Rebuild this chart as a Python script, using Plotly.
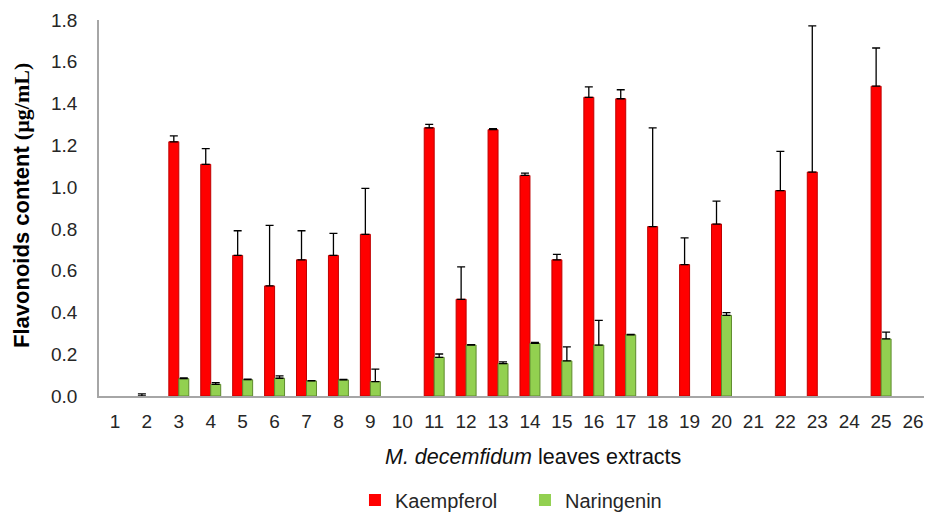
import plotly.graph_objects as go

categories = [str(i) for i in range(1, 27)]

kaempferol = [None, 0, 1.217, 1.109, 0.673, 0.527, 0.652, 0.673, 0.774, None,
              1.284, 0.463, 1.275, 1.056, 0.652, 1.430, 1.423, 0.811, 0.629, 0.823,
              None, 0.983, 1.072, None, 1.483, None]
kaempferol_err = [0, 0.01, 0.028, 0.075, 0.118, 0.29, 0.139, 0.106, 0.22, 0,
                  0.016, 0.155, 0.005, 0.011, 0.026, 0.05, 0.043, 0.473, 0.128, 0.11,
                  0, 0.188, 0.70, 0, 0.183, 0]

naringenin = [None, None, 0.083, 0.056, 0.078, 0.085, 0.072, 0.077, 0.069, None,
              0.185, 0.244, 0.155, 0.252, 0.168, 0.244, 0.293, None, None, 0.386,
              None, None, None, None, 0.273, None]
naringenin_err = [0, 0, 0.004, 0.008, 0.003, 0.011, 0.002, 0.003, 0.06, 0,
                  0.016, 0.002, 0.008, 0.005, 0.067, 0.118, 0.002, 0, 0, 0.013,
                  0, 0, 0, 0, 0.033, 0]

y_ticks = [0.0, 0.2, 0.4, 0.6, 0.8, 1.0, 1.2, 1.4, 1.6, 1.8]

font_fam = "Liberation Sans, Arial, sans-serif"


def edge_widths(vals):
    return [1 if (v is not None and v > 0) else 0 for v in vals]


fig = go.Figure()
fig.add_trace(go.Bar(
    x=categories, y=kaempferol, name="Kaempferol",
    marker=dict(color="#FF0000", line=dict(color="#C00000", width=edge_widths(kaempferol))),
    error_y=dict(type="data", array=kaempferol_err, arrayminus=[0] * 26,
                 symmetric=False, color="black", thickness=1.3, width=4),
))
fig.add_trace(go.Bar(
    x=categories, y=naringenin, name="Naringenin",
    marker=dict(color="#92D050", line=dict(color="#5E8A2E", width=edge_widths(naringenin))),
    error_y=dict(type="data", array=naringenin_err, arrayminus=[0] * 26,
                 symmetric=False, color="black", thickness=1.3, width=4),
))

fig.update_layout(
    width=924, height=507,
    margin=dict(l=91, r=3, t=12, b=119, autoexpand=False),
    paper_bgcolor="white", plot_bgcolor="white",
    barmode="group", bargap=0.375, bargroupgap=0,
    font=dict(family=font_fam, size=20, color="#262626"),
    showlegend=True,
    legend=dict(orientation="h", xref="container", x=0.5595, xanchor="center",
                yref="container", y=0.0296, yanchor="middle",
                font=dict(size=20, color="#262626"), itemwidth=30,
                entrywidth=125, entrywidthmode="pixels",
                traceorder="normal"),
    xaxis=dict(
        type="category", showline=True, linecolor="#A6A6A6", linewidth=1.5,
        showgrid=False, ticks="", ticklabelstandoff=7, automargin=False,
        tickfont=dict(size=19, color="#262626"),
    ),
    yaxis=dict(
        range=[0, 1.8], tickvals=y_ticks, tickformat=".1f",
        showline=True, linecolor="#A6A6A6", linewidth=1.5,
        showgrid=False, zeroline=False, ticks="", ticklabelstandoff=16,
        automargin=False,
        tickfont=dict(size=19, color="#262626"),
    ),
    annotations=[
        dict(text="<i>M. decemfidum</i> leaves extracts", xref="paper", yref="paper",
             x=0.523, y=-0.162, xanchor="center", yanchor="middle", showarrow=False,
             font=dict(size=21.5, color="#111111")),
        dict(text="<b>Flavonoids content <span style=\"font-family:'Liberation Serif', 'Times New Roman', serif\">(µg/mL)</span></b>",
             xref="paper", yref="paper", x=-0.0928, y=0.508, xanchor="center",
             yanchor="middle", textangle=-90, showarrow=False,
             font=dict(size=22, color="#000000")),
    ],
)

fig.write_html("out.html")
